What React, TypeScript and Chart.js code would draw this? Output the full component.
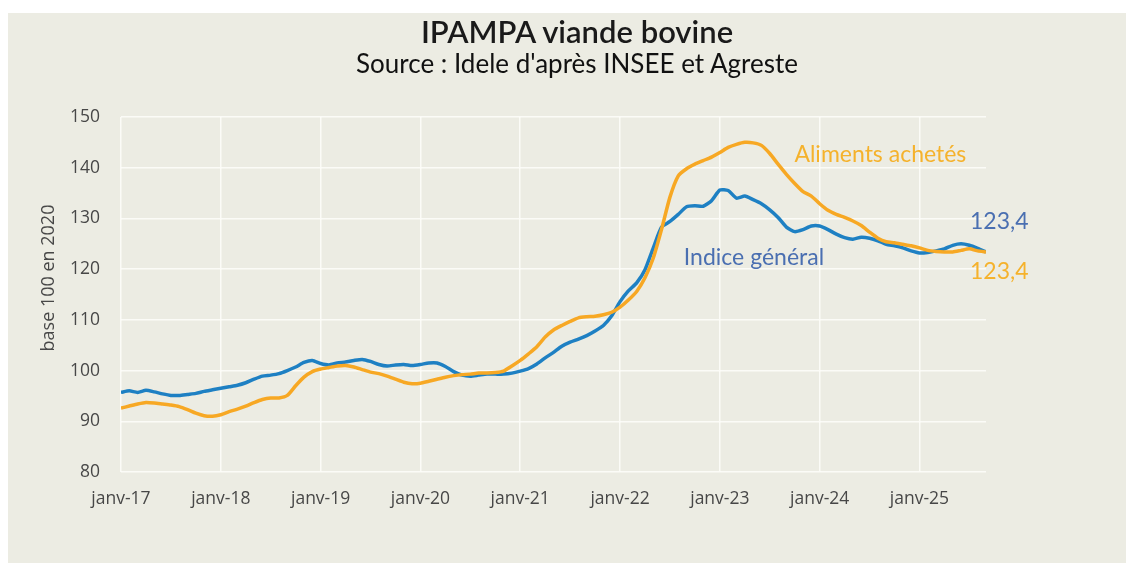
import { useEffect, useRef } from "react";
import { Chart, registerables } from "chart.js";

Chart.register(...registerables);

// x tick labels (one per January)
const tickLabels = [
  "janv-17", "janv-18", "janv-19", "janv-20", "janv-21",
  "janv-22", "janv-23", "janv-24", "janv-25",
];

// IPAMPA viande bovine – Indice général (base 100 en 2020), monthly from janv-17
const indiceGeneral = [
  95.7, 96.0, 95.7, 96.1, 95.8, 95.4, 95.1, 95.1, 95.3, 95.5, 95.9, 96.2,
  96.5, 96.8, 97.1, 97.6, 98.3, 98.9, 99.1, 99.4, 100.0, 100.7, 101.6, 102.0,
  101.4, 101.1, 101.5, 101.7, 102.0, 102.2, 101.8, 101.2, 100.9, 101.1, 101.2, 101.0,
  101.2, 101.5, 101.5, 100.8, 99.8, 99.1, 98.9, 99.1, 99.3, 99.3, 99.3, 99.5,
  99.9, 100.4, 101.3, 102.5, 103.6, 104.8, 105.6, 106.2, 106.9, 107.8, 108.9, 110.8,
  113.6, 115.7, 117.3, 119.9, 124.2, 128.3, 129.4, 130.8, 132.3, 132.5, 132.4, 133.5,
  135.6, 135.5, 134.0, 134.4, 133.7, 132.9, 131.7, 130.2, 128.3, 127.4, 127.8, 128.5,
  128.5, 127.8, 126.9, 126.2, 125.9, 126.3, 126.1, 125.6, 124.9, 124.6, 124.2, 123.6,
  123.2, 123.3, 123.6, 124.0, 124.7, 125.0, 124.7, 124.1, 123.4,
];

// IPAMPA viande bovine – Aliments achetés
const alimentsAchetes = [
  92.6, 93.0, 93.4, 93.7, 93.6, 93.4, 93.2, 92.9, 92.3, 91.6, 91.1, 91.0,
  91.3, 91.9, 92.4, 93.0, 93.7, 94.3, 94.6, 94.6, 95.1, 97.0, 98.7, 99.8,
  100.3, 100.6, 100.9, 101.0, 100.7, 100.2, 99.7, 99.4, 98.9, 98.3, 97.7, 97.4,
  97.5, 97.9, 98.3, 98.7, 99.0, 99.2, 99.3, 99.5, 99.5, 99.6, 99.9, 100.9,
  102.0, 103.3, 104.7, 106.6, 108.0, 108.9, 109.7, 110.4, 110.6, 110.7, 111.0, 111.5,
  112.5, 113.9, 115.6, 118.3, 122.2, 127.9, 134.2, 138.4, 139.8, 140.7, 141.4, 142.1,
  143.0, 144.0, 144.6, 145.0, 144.9, 144.4, 142.8, 140.7, 138.7, 136.9, 135.3, 134.4,
  132.9, 131.6, 130.8, 130.2, 129.5, 128.6, 127.3, 126.1, 125.4, 125.2, 124.9, 124.6,
  124.2, 123.7, 123.5, 123.4, 123.4, 123.7, 124.0, 123.6, 123.4,
];

const BLUE = "#1e80c3";
const ORANGE = "#f7a824";
const BLUE_TEXT = "#4a6fb1";
const ORANGE_TEXT = "#f5b22c";
const GRID = "rgba(252,252,248,0.95)";
const TICK = "#474747";
const BG = "#ecece3";

// annotation texts (placed in data coordinates: x = month index, y = value)
const annotations = [
  { text: "Aliments achetés", x: 91.3, y: 142.5, color: ORANGE_TEXT },
  { text: "Indice général", x: 76.1, y: 122.2, color: BLUE_TEXT },
  { text: "123,4", x: 105.6, y: 129.3, color: BLUE_TEXT },
  { text: "123,4", x: 105.6, y: 119.6, color: ORANGE_TEXT },
];

const textPlugin = {
  id: "texts",
  afterDatasetsDraw(chart: any) {
    const { ctx, scales } = chart;
    ctx.save();
    ctx.textAlign = "center";
    ctx.textBaseline = "middle";
    ctx.font = "23px Lato";
    for (const a of annotations) {
      ctx.fillStyle = a.color;
      ctx.fillText(a.text, scales.x.getPixelForValue(a.x), scales.y.getPixelForValue(a.y));
    }
    // y axis title
    ctx.translate(41, 265);
    ctx.rotate(-Math.PI / 2);
    ctx.fillStyle = TICK;
    ctx.font = "18px 'Open Sans'";
    ctx.fillText("base 100 en 2020", 0, 0);
    ctx.restore();
  },
};

export default function App() {
  const ref = useRef<HTMLCanvasElement>(null);
  useEffect(() => {
    const tickFont = { family: "'Open Sans'", size: 17.5 };
    const chart = new Chart(ref.current!, {
      type: "line",
      data: {
        datasets: [
          {
            label: "Aliments achetés",
            data: alimentsAchetes.map((y, i) => ({ x: i, y })),
            borderColor: ORANGE,
            borderWidth: 3.5,
            pointRadius: 0,
            tension: 0.2,
            fill: false,
          },
          {
            label: "Indice général",
            data: indiceGeneral.map((y, i) => ({ x: i, y })),
            borderColor: BLUE,
            borderWidth: 3.5,
            pointRadius: 0,
            tension: 0.2,
            fill: false,
          },
        ],
      },
      options: {
        animation: false,
        responsive: false,
        layout: { padding: { left: 0, right: 140, top: 104, bottom: 0 } },
        plugins: { legend: { display: false }, tooltip: { enabled: false }, title: { display: false } },
        scales: {
          x: {
            type: "linear",
            min: 0,
            max: 104,
            afterBuildTicks: (axis: any) => {
              axis.ticks = tickLabels.map((_, k) => ({ value: k * 12 }));
            },
            afterFit: (s: any) => {
              s.height = 91;
            },
            grid: { color: GRID, lineWidth: 1.5, drawTicks: false },
            border: { display: false },
            ticks: {
              padding: 17,
              font: tickFont,
              color: TICK,
              maxRotation: 0,
              autoSkip: false,
              callback: (v: any) => tickLabels[Math.round(Number(v) / 12)] ?? "",
            },
          },
          y: {
            min: 80,
            max: 150,
            afterFit: (s: any) => {
              s.width = 113;
            },
            grid: { color: GRID, lineWidth: 1.5, drawTicks: false },
            border: { display: false },
            ticks: { stepSize: 10, padding: 21, font: tickFont, color: TICK },
          },
        },
      },
      plugins: [textPlugin],
    });
    return () => chart.destroy();
  }, []);

  return (
    <div style={{ position: "absolute", left: 8, top: 13, width: 1118, height: 550, background: BG, overflow: "hidden" }}>
      <canvas ref={ref} width={1118} height={550} style={{ position: "absolute", left: 0, top: 0 }} />
      <div
        style={{
          position: "absolute", left: 10, top: 1, width: 1118, textAlign: "center",
          fontFamily: "Lato", fontWeight: 600, fontSize: 31, lineHeight: "34px", color: "#1a1a1a",
        }}
      >
        IPAMPA viande bovine
      </div>
      <div
        style={{
          position: "absolute", left: 10, top: 35, width: 1118, textAlign: "center",
          fontFamily: "Lato", fontSize: 26, lineHeight: "30px", color: "#111",
        }}
      >
        Source : Idele d'après INSEE et Agreste
      </div>
    </div>
  );
}
